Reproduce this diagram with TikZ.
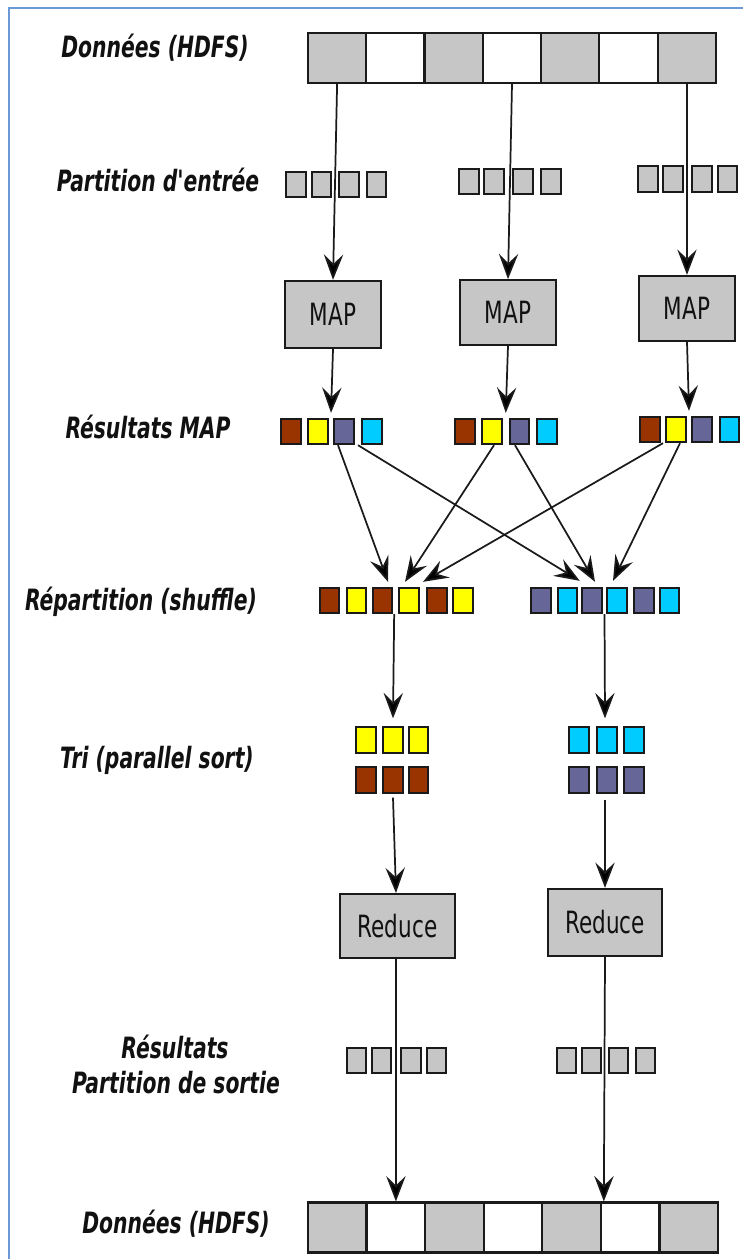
\documentclass[tikz,border=0pt]{standalone}
\usepackage{fontspec}
\newfontfamily\lblfont[FakeStretch=0.77]{DejaVu Sans Condensed Bold Oblique}
\newfontfamily\boxfont[FakeStretch=0.78]{DejaVu Sans Condensed}
\usetikzlibrary{arrows.meta,calc}
\definecolor{cbrown}{HTML}{993300}
\definecolor{cyel}{HTML}{FFFF00}
\definecolor{cpur}{HTML}{666699}
\definecolor{ccyan}{HTML}{00CCFF}
\definecolor{cgray}{HTML}{C6C6C6}
\definecolor{linec}{HTML}{1A1A1A}
\definecolor{textc}{HTML}{111111}
\definecolor{framec}{HTML}{6A9AD6}
\tikzset{
  sq/.style={draw=linec, line width=1.5pt, inner sep=0pt, minimum width=14.5pt, minimum height=19pt},
  cellbox/.style={draw=linec, line width=1.6pt, inner sep=0pt, minimum width=43.8pt, minimum height=37.5pt},
  procbox/.style={draw=linec, fill=cgray, line width=1.5pt, inner sep=0pt, text=textc,
    font=\boxfont\fontsize{23}{27}\selectfont},
  lbl/.style={font=\lblfont\fontsize{22}{26}\selectfont, text=textc, inner sep=0pt, anchor=base},
  arr/.style={draw=linec, line width=1.3pt, -{Stealth[length=19pt,width=14.5pt,inset=7pt,fill=black]}}
}
\begin{document}
\begin{tikzpicture}[x=0.75pt,y=-0.75pt]
\useasboundingbox (0,0) rectangle (743,1259);
\fill[white] (0,0) rectangle (743,1259);
% frame
\draw[framec, line width=1.6pt] (9,1259) -- (9,8) -- (743,8);

% labels
\node[lbl] (L1) at (155,58) {Données (HDFS)};
\node[lbl] (L2) at (158,191) {Partition d'entrée};
\node[lbl] (L3) at (148,438) {Résultats MAP};
\node[lbl] (L4) at (141,610) {Répartition (shuffle)};
\node[lbl] (L5) at (157,768) {Tri (parallel sort)};
\node[lbl] (L6a) at (175,1058) {Résultats};
\node[lbl] (L6b) at (176,1093) {Partition de sortie};
\node[lbl] (L7) at (176,1233) {Données (HDFS)};

% top bar
\foreach \i/\x/\c in {1/337.1/cgray,2/395.4/white,3/453.7/cgray,4/512/white,5/570.3/cgray,6/628.6/white,7/686.9/cgray}
  \node[cellbox,fill=\c] (t\i) at (\x,58) {};

% input partitions
\foreach \n/\x in {a/296,b/321.5,c/349,d/376.5}
  \node[sq,fill=cgray] (p1\n) at (\x,184.5) {};
\foreach \n/\x in {a/469,b/494,c/523,d/551}
  \node[sq,fill=cgray] (p2\n) at (\x,181.5) {};
\foreach \n/\x in {a/648,b/673,c/702,d/727.5}
  \node[sq,fill=cgray] (p3\n) at (\x,179) {};

% MAP boxes
\node[procbox, minimum width=72pt, minimum height=50.5pt] (m1) at (333,314.5) {MAP};
\node[procbox, minimum width=72pt, minimum height=48.5pt] (m2) at (508,312.5) {MAP};
\node[procbox, minimum width=72pt, minimum height=49pt] (m3) at (687,308.5) {MAP};

% MAP results
\foreach \n/\x/\c in {b/291/cbrown,y/318/cyel,p/344/cpur,c/372/ccyan}
  \node[sq,fill=\c] (r1\n) at (\x,431.5) {};
\foreach \n/\x/\c in {b/465/cbrown,y/492/cyel,p/519.5/cpur,c/547/ccyan}
  \node[sq,fill=\c] (r2\n) at (\x,431.5) {};
\foreach \n/\x/\c in {b/650/cbrown,y/676/cyel,p/702/cpur,c/729.5/ccyan}
  \node[sq,fill=\c] (r3\n) at (\x,429.5) {};

% shuffle
\foreach \i/\x/\c in {1/329.5/cbrown,2/356.5/cyel,3/382.5/cbrown,4/409/cyel,5/437/cbrown,6/463/cyel}
  \node[sq,fill=\c] (sl\i) at (\x,600.5) {};
\foreach \i/\x/\c in {1/541/cpur,2/567.5/ccyan,3/592/cpur,4/617/ccyan,5/644/cpur,6/669.5/ccyan}
  \node[sq,fill=\c] (sr\i) at (\x,600.5) {};

% sort
\foreach \i/\x in {1/366,2/393,3/418.5} {
  \node[sq,fill=cyel] (tly\i) at (\x,740) {};
  \node[sq,fill=cbrown] (tlb\i) at (\x,780) {};
}
\foreach \i/\x in {1/579,2/607,3/634} {
  \node[sq,fill=ccyan] (trc\i) at (\x,740) {};
  \node[sq,fill=cpur] (trp\i) at (\x,780) {};
}

% reduce
\node[procbox, minimum width=86.5pt, minimum height=48pt] (rd1) at (397.5,926) {Reduce};
\node[procbox, minimum width=85.5pt, minimum height=50.5pt] (rd2) at (605,922.5) {Reduce};

% output partitions
\foreach \n/\x in {a/356.5,b/381.5,c/411,d/436.5}
  \node[sq,fill=cgray] (o1\n) at (\x,1060.5) {};
\foreach \n/\x in {a/566.5,b/591.5,c/618.5,d/645.5}
  \node[sq,fill=cgray] (o2\n) at (\x,1060.5) {};

% bottom bar
\foreach \i/\x/\c in {1/337.3/cgray,2/395.9/white,3/454.4/cgray,4/513/white,5/571.6/cgray,6/630.1/white,7/688.7/cgray}
  \node[cellbox,fill=\c] (b\i) at (\x,1227.5) {};

% arrows: data -> MAP
\draw[arr] (t1.south) -- (m1.north);
\draw[arr] (t4.south) -- (m2.north);
\draw[arr] (t7.south) -- (m3.north);

% MAP -> results
\draw[arr] (m1.south) -- ($(r1y.north east)!0.5!(r1p.north west)+(0,-5)$);
\draw[arr] (m2.south) -- ($(r2y.north east)!0.5!(r2p.north west)+(0,-5)$);
\draw[arr] (m3.south) -- ($(r3y.north east)!0.5!(r3p.north west)+(0,-5)$);

% shuffle
\draw[arr] ($(r1p.south)+(-6,0)$) -- ($(sl3.north)+(5.5,-5)$);
\draw[arr] ($(r1p.south east)!0.5!(r1c.south west)$) -- ($(sr2.north east)!0.5!(sr3.north west)+(0,-6)$);
\draw[arr] ($(r2y.south)+(2,0)$) -- ($(sl4.north)+(-4,-5)$);
\draw[arr] ($(r2p.south)+(-4.5,0)$) -- ($(sr3.north)+(3,-5)$);
\draw[arr] ($(r3b.south east)!0.5!(r3y.south west)$) -- ($(sl4.north east)!0.5!(sl5.north west)+(0,-5)$);
\draw[arr] ($(r3y.south)+(4,0)$) -- ($(sr4.north)+(-4,-6)$);

% shuffle -> sort
\draw[arr] ($(sl3.south east)+(1,0)$) -- ($(tly2.north)+(0,-8)$);
\draw[arr] ($(sr3.south east)!0.5!(sr4.south west)$) -- ($(trc2.north)+(-2,-8)$);

% sort -> reduce
\draw[arr] ($(tlb2.south)+(0,4)$) -- ($(rd1.north)+(-1.5,0)$);
\draw[arr] ($(trp2.south)+(-2,6)$) -- (rd2.north);

% reduce -> data
\draw[arr] ($(rd1.south)+(-1.5,0)$) -- (b2.north);
\draw[arr] (rd2.south) -- ($(b6.north west)+(4,0)$);
\end{tikzpicture}
\end{document}
